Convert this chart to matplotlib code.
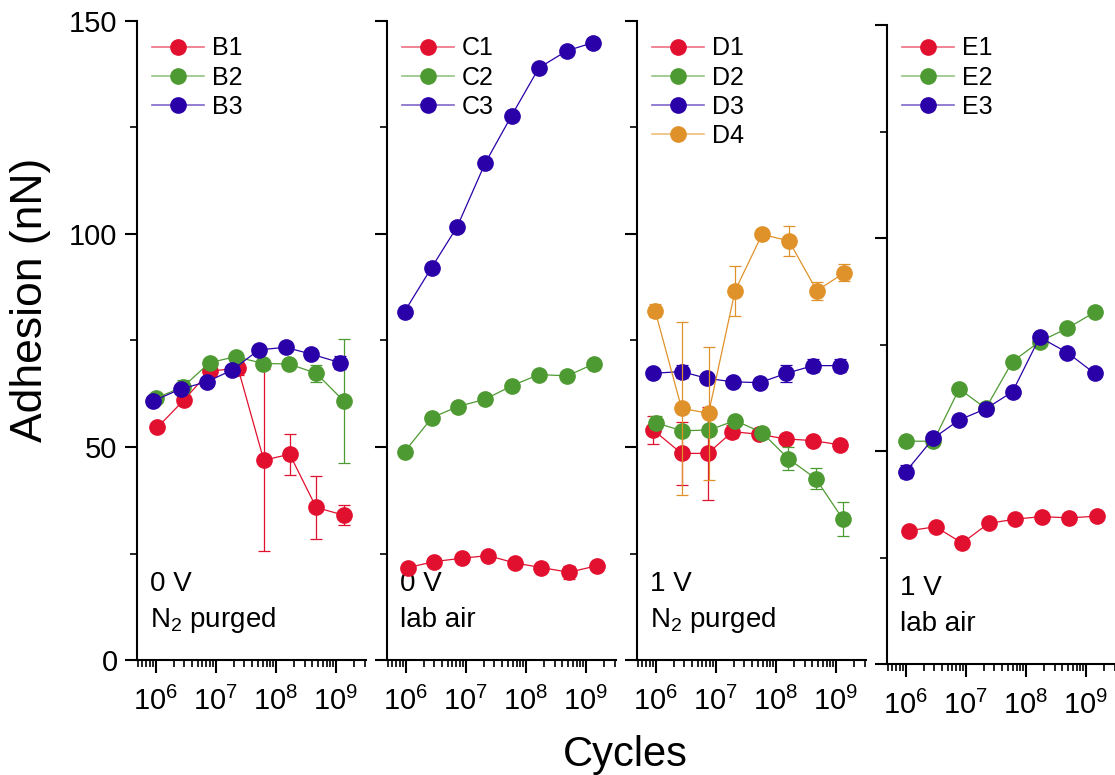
import matplotlib
matplotlib.use("Agg")
import matplotlib.pyplot as plt
from matplotlib.lines import Line2D
from matplotlib.ticker import LogLocator, LogFormatterMathtext, MultipleLocator, NullFormatter

plt.rcParams['font.family'] = ['Liberation Sans', 'DejaVu Sans']
plt.rcParams['mathtext.fontset'] = 'custom'
plt.rcParams['mathtext.rm'] = 'Liberation Sans'
plt.rcParams['mathtext.it'] = 'Liberation Sans:italic'
plt.rcParams['mathtext.bf'] = 'Liberation Sans:bold'

RED = '#E2102F'
GREEN = '#4E9A32'
BLUE = '#2A00A8'
ORANGE = '#E0922A'

# ---- 0 V, N2 purged ----
b1_cycles = [1.07e6, 2.95e6, 7.9e6, 2.35e7, 6.3e7, 1.7e8, 4.7e8, 1.35e9]
b1_adh = [54.6, 61.0, 67.8, 68.5, 46.9, 48.3, 35.8, 34.0]
b1_err = [0.8, 1.0, 1.0, 1.5, 21.3, 4.8, 7.3, 2.4]
b2_cycles = [1.0e6, 2.9e6, 7.9e6, 2.15e7, 6.2e7, 1.65e8, 4.7e8, 1.35e9]
b2_adh = [61.4, 64.2, 69.8, 71.2, 69.6, 69.5, 67.3, 60.8]
b2_err = [0.8, 1.5, 0.8, 0.8, 1.0, 0.8, 2.0, 14.6]
b3_cycles = [9.1e5, 2.6e6, 7.1e6, 1.9e7, 5.2e7, 1.45e8, 3.9e8, 1.17e9]
b3_adh = [60.8, 63.6, 65.3, 68.1, 72.8, 73.4, 71.8, 69.8]
b3_err = [0.8, 0.8, 0.8, 0.8, 1.0, 1.2, 1.2, 1.5]

# ---- 0 V, lab air ----
c1_cycles = [1.1e6, 3.0e6, 8.7e6, 2.35e7, 6.5e7, 1.8e8, 5.2e8, 1.5e9]
c1_adh = [21.7, 23.1, 23.9, 24.5, 22.8, 21.7, 20.6, 22.1]
c1_err = [0.5, 0.5, 0.5, 0.5, 0.5, 0.5, 1.5, 0.5]
c2_cycles = [9.6e5, 2.75e6, 7.4e6, 2.1e7, 5.9e7, 1.65e8, 4.9e8, 1.35e9]
c2_adh = [48.9, 56.9, 59.5, 61.2, 64.4, 67.0, 66.7, 69.5]
c2_err = [0.5, 0.5, 0.5, 0.5, 0.5, 0.5, 0.5, 0.5]
c3_cycles = [9.6e5, 2.7e6, 7.2e6, 2.1e7, 5.8e7, 1.65e8, 4.8e8, 1.3e9]
c3_adh = [81.8, 92.1, 101.7, 116.6, 127.8, 139.0, 143.0, 144.9]
c3_err = [1.0, 0.8, 0.5, 0.8, 0.5, 0.5, 0.5, 0.5]

# ---- 1 V, N2 purged ----
d1_cycles = [9.1e5, 2.7e6, 7.4e6, 1.9e7, 5.2e7, 1.45e8, 4.2e8, 1.17e9]
d1_adh = [54.0, 48.5, 48.5, 53.6, 53.0, 51.9, 51.5, 50.5]
d1_err = [3.2, 7.4, 11.0, 1.5, 0.5, 0.5, 0.5, 0.5]
d2_cycles = [1.0e6, 2.75e6, 7.8e6, 2.1e7, 5.9e7, 1.6e8, 4.6e8, 1.3e9]
d2_adh = [55.7, 53.8, 54.0, 56.2, 53.4, 47.3, 42.6, 33.1]
d2_err = [1.5, 0.5, 0.5, 0.8, 1.0, 2.7, 2.4, 3.9]
d3_cycles = [9.1e5, 2.7e6, 7.2e6, 1.95e7, 5.4e7, 1.5e8, 4.2e8, 1.17e9]
d3_adh = [67.3, 67.7, 66.1, 65.3, 65.1, 67.3, 69.1, 69.1]
d3_err = [0.5, 1.5, 0.5, 0.5, 0.8, 2.0, 1.5, 1.5]
d4_cycles = [9.8e5, 2.7e6, 7.6e6, 2.1e7, 5.9e7, 1.65e8, 4.8e8, 1.38e9]
d4_adh = [82.0, 59.1, 57.9, 86.7, 99.9, 98.4, 86.7, 90.9]
d4_err = [1.5, 20.3, 15.6, 5.9, 0.5, 3.5, 2.1, 2.0]

# ---- 1 V, lab air ----
e1_cycles = [1.12e6, 3.15e6, 8.7e6, 2.4e7, 6.6e7, 1.85e8, 5.2e8, 1.5e9]
e1_adh = [31.3, 32.2, 28.4, 33.0, 34.0, 34.6, 34.3, 34.7]
e1_err = [0.5, 0.5, 0.5, 0.5, 0.5, 0.5, 0.5, 0.5]
e2_cycles = [1.0e6, 2.9e6, 7.8e6, 2.15e7, 6.0e7, 1.7e8, 4.9e8, 1.4e9]
e2_adh = [52.3, 52.3, 64.6, 60.0, 71.0, 75.7, 78.8, 82.6]
e2_err = [0.5, 1.0, 0.5, 1.0, 0.5, 0.8, 0.5, 0.5]
e3_cycles = [1.0e6, 2.9e6, 7.8e6, 2.15e7, 6.0e7, 1.7e8, 4.9e8, 1.4e9]
e3_adh = [45.1, 53.0, 57.3, 59.9, 63.9, 76.7, 73.1, 68.2]
e3_err = [1.5, 1.0, 0.5, 1.0, 0.5, 0.8, 0.5, 0.5]

panels = [
    (["B1", "B2", "B3"],
     [(b1_cycles, b1_adh, b1_err), (b2_cycles, b2_adh, b2_err), (b3_cycles, b3_adh, b3_err)],
     "0 V", r"N$_\mathregular{2}$ purged"),
    (["C1", "C2", "C3"],
     [(c1_cycles, c1_adh, c1_err), (c2_cycles, c2_adh, c2_err), (c3_cycles, c3_adh, c3_err)],
     "0 V", "lab air"),
    (["D1", "D2", "D3", "D4"],
     [(d1_cycles, d1_adh, d1_err), (d2_cycles, d2_adh, d2_err), (d3_cycles, d3_adh, d3_err),
      (d4_cycles, d4_adh, d4_err)],
     "1 V", r"N$_\mathregular{2}$ purged"),
    (["E1", "E2", "E3"],
     [(e1_cycles, e1_adh, e1_err), (e2_cycles, e2_adh, e2_err), (e3_cycles, e3_adh, e3_err)],
     "1 V", "lab air"),
]
colors = [RED, GREEN, BLUE, ORANGE]

W, H = 1115, 775
fig = plt.figure(figsize=(W / 100, H / 100), dpi=100)

lefts = [137, 387, 637, 887]
bottoms = [660, 660, 660, 664]
aw, ah = 229, 639

for i, (labels, series, volt, env) in enumerate(panels):
    ax = fig.add_axes([lefts[i] / W, (H - bottoms[i]) / H, aw / W, ah / H])
    ax.set_xscale('log')
    ax.set_xlim(10 ** 5.69, 10 ** 9.5)
    ax.set_ylim(0, 150)
    handles = []
    for j, (lab, (x, y, e)) in enumerate(zip(labels, series)):
        c = colors[j]
        ax.errorbar(x, y, yerr=e, color=c, lw=0.9, elinewidth=0.9, capsize=4.3,
                    capthick=0.9, marker='o', ms=11, mec=c, mfc=c, zorder=3 + j)
        line = Line2D([], [], color=c, lw=1.2, alpha=0.6)
        dot = Line2D([], [], color=c, lw=0, marker='o', ms=11, mec=c, mfc=c)
        handles.append((line, dot))
    for s in ('top', 'right'):
        ax.spines[s].set_visible(False)
    for s in ('left', 'bottom'):
        ax.spines[s].set_linewidth(1.5)
    ax.yaxis.set_major_locator(MultipleLocator(50))
    ax.yaxis.set_minor_locator(MultipleLocator(25))
    ax.xaxis.set_major_locator(LogLocator(base=10, numticks=20))
    ax.xaxis.set_minor_locator(LogLocator(base=10, subs=range(2, 10), numticks=20))
    ax.xaxis.set_major_formatter(LogFormatterMathtext())
    ax.xaxis.set_minor_formatter(NullFormatter())
    ax.tick_params(which='major', direction='out', length=9, width=1.5, labelsize=21)
    ax.tick_params(which='minor', direction='out', length=5, width=1.2)
    ax.tick_params(axis='x', which='major', pad=10)
    ax.tick_params(axis='y', which='major', pad=5)
    if i > 0:
        ax.tick_params(axis='y', labelleft=False)

    anchor_y = 0.976 + (bottoms[i] - 660) / ah
    ax.legend(handles, labels, loc='upper left', bbox_to_anchor=(0.064, anchor_y),
              frameon=False, fontsize=18, handlelength=2.1, handletextpad=0.3,
              labelspacing=0.21, borderpad=0, borderaxespad=0)

    ax.text(0.057, 0.108, volt, transform=ax.transAxes, fontsize=20, va='baseline', ha='left')
    ax.text(0.057, 0.052, env, transform=ax.transAxes, fontsize=20, va='baseline', ha='left')

fig.text(31 / W, 1 - 300 / H, "Adhesion (nN)", rotation=90, fontsize=32,
         ha='center', va='center')
fig.text(625 / W, (H - 766) / H, "Cycles", fontsize=30, ha='center', va='baseline')

fig.savefig("out.png", dpi=100)
